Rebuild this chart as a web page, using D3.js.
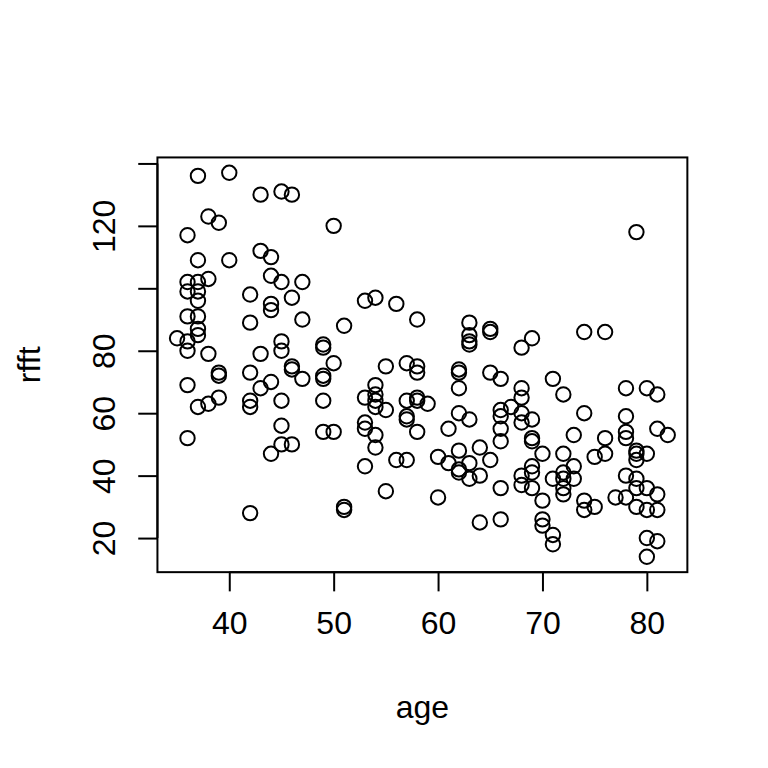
<!DOCTYPE html>
<html>
<head>
<meta charset="utf-8">
<script src="https://cdn.jsdelivr.net/npm/d3@7"></script>
<style>
  html, body { margin: 0; padding: 0; background: #ffffff; }
  svg { display: block; }
  text { font-family: "Liberation Sans", Arial, Helvetica, sans-serif; fill: #000; }
</style>
</head>
<body>
<svg id="chart" width="768" height="768"></svg>
<script>
// ---- data ----
const age = [
  35,
  36,36,36,36,36,36,36,36,
  37,37,37,37,37,37,37,37,37,
  38,38,38,38,
  39,39,39,39,
  40,40,
  42,42,42,42,42,42,
  43,43,43,43,
  44,44,44,44,44,44,
  45,45,45,45,45,45,45,
  46,46,46,46,46,
  47,47,47,
  49,49,49,49,49,49,
  50,50,50,
  51,51,51,
  53,53,53,53,53,
  54,54,54,54,54,54,54,
  55,55,55,
  56,56,
  57,57,57,57,57,
  58,58,58,58,58,58,
  59,
  60,60,
  61,61,
  62,62,62,62,62,62,62,
  63,63,63,63,63,63,63,
  64,64,64,
  65,65,65,65,
  66,66,66,66,66,66,66,
  67,
  68,68,68,68,68,68,68,
  69,69,69,69,69,69,69,
  70,70,70,70,
  71,71,71,71,
  72,72,72,72,72,72,
  73,73,73,
  74,74,74,74,
  75,75,
  76,76,76,
  77,
  78,78,78,78,78,78,
  79,79,79,79,79,79,79,
  80,80,80,80,80,80,
  81,81,81,81,81,
  82
];
const rfft = [
  84,
  117,102,99,91,83,80,69,52,
  136,109,102,99,96,91,87,85,62,
  123,103,79,63,
  121,73,72,65,
  137,109,
  98,89,73,64,62,28,
  130,112,79,68,
  110,104,95,93,70,47,
  131,102,83,80,64,56,50,
  130,97,75,74,50,
  102,90,71,
  82,81,72,71,64,54,
  120,76,54,
  88,30,29,
  96,65,57,55,43,
  97,69,66,64,62,53,49,
  75,61,35,
  95,45,
  76,64,59,58,45,
  90,75,73,65,64,54,
  63,
  46,33,
  55,44,
  74,73,68,60,48,42,41,
  89,85,83,82,58,44,39,
  49,40,25,
  87,86,73,45,
  71,61,59,55,51,36,26,
  62,
  81,68,65,60,57,40,37,
  84,58,52,51,43,41,36,
  47,32,26,24,
  71,39,21,18,
  66,47,41,39,36,34,
  53,43,39,
  86,60,32,29,
  46,30,
  86,52,47,
  33,
  68,59,54,52,40,33,
  118,48,47,45,39,36,30,
  68,47,36,29,20,14,
  66,55,34,29,19,
  53
];
const xTicks = [40, 50, 60, 70, 80];
const xTickLabels = ["40", "50", "60", "70", "80"];
const yTicks = [20, 40, 60, 80, 100, 120, 140];
const yTickLabels = ["20", "40", "60", "80", "", "120", ""];
const xTitle = "age";
const yTitle = "rfft";

// ---- layout (R base graphics look) ----
const W = 768, H = 768;
const lineH = 38.4;
const plot = { left: 4.1 * lineH, right: W - 2.1 * lineH, top: 4.1 * lineH, bottom: H - 5.1 * lineH };
const fontSize = 32;

const svg = d3.select("#chart");
const points = age.map((a, i) => ({ x: a, y: rfft[i] }));

function ext(arr) {
  const [lo, hi] = d3.extent(arr);
  const pad = (hi - lo) * 0.04;
  return [lo - pad, hi + pad];
}

const x = d3.scaleLinear().domain(ext(age)).range([plot.left, plot.right]);
const y = d3.scaleLinear().domain(ext(rfft)).range([plot.bottom, plot.top]);

// points
svg.append("g")
  .selectAll("circle")
  .data(points)
  .join("circle")
  .attr("cx", d => x(d.x))
  .attr("cy", d => y(d.y))
  .attr("r", 7.2)
  .attr("fill", "none")
  .attr("stroke", "#000")
  .attr("stroke-width", 2);

// box
svg.append("rect")
  .attr("x", plot.left)
  .attr("y", plot.top)
  .attr("width", plot.right - plot.left)
  .attr("height", plot.bottom - plot.top)
  .attr("fill", "none")
  .attr("stroke", "#000")
  .attr("stroke-width", 2);

// x axis
const xAxis = d3.axisBottom(x)
  .tickValues(xTicks)
  .tickFormat((d, i) => xTickLabels[i])
  .tickSizeInner(19.2)
  .tickSizeOuter(0)
  .tickPadding(0);
const gx = svg.append("g")
  .attr("transform", `translate(0,${plot.bottom})`)
  .call(xAxis);
gx.select(".domain")
  .attr("d", `M${x(xTicks[0])},0H${x(xTicks[xTicks.length - 1])}`)
  .attr("stroke", "#000").attr("stroke-width", 2);
gx.selectAll(".tick line").attr("stroke", "#000").attr("stroke-width", 2);
gx.selectAll(".tick text")
  .attr("y", 61.5)
  .attr("dy", null)
  .attr("font-size", fontSize)
  .attr("font-family", "'Liberation Sans', Arial, sans-serif")
  .attr("fill", "#000");

// y axis
const yAxis = d3.axisLeft(y)
  .tickValues(yTicks)
  .tickFormat((d, i) => yTickLabels[i])
  .tickSizeInner(19.2)
  .tickSizeOuter(0)
  .tickPadding(0);
const gy = svg.append("g")
  .attr("transform", `translate(${plot.left},0)`)
  .call(yAxis);
gy.select(".domain")
  .attr("d", `M0,${y(yTicks[0])}V${y(yTicks[yTicks.length - 1])}`)
  .attr("stroke", "#000").attr("stroke-width", 2);
gy.selectAll(".tick line").attr("stroke", "#000").attr("stroke-width", 2);
gy.selectAll(".tick text")
  .attr("x", null).attr("dy", null)
  .attr("transform", "translate(-42,0) rotate(-90)")
  .attr("text-anchor", "middle")
  .attr("font-size", fontSize)
  .attr("font-family", "'Liberation Sans', Arial, sans-serif")
  .attr("fill", "#000");

// axis titles
svg.append("text")
  .attr("x", (plot.left + plot.right) / 2)
  .attr("y", 718)
  .attr("text-anchor", "middle")
  .attr("font-size", fontSize)
  .text(xTitle);

svg.append("text")
  .attr("transform", `translate(40,${(plot.top + plot.bottom) / 2}) rotate(-90)`)
  .attr("text-anchor", "middle")
  .attr("font-size", fontSize)
  .text(yTitle);
</script>
</body>
</html>
